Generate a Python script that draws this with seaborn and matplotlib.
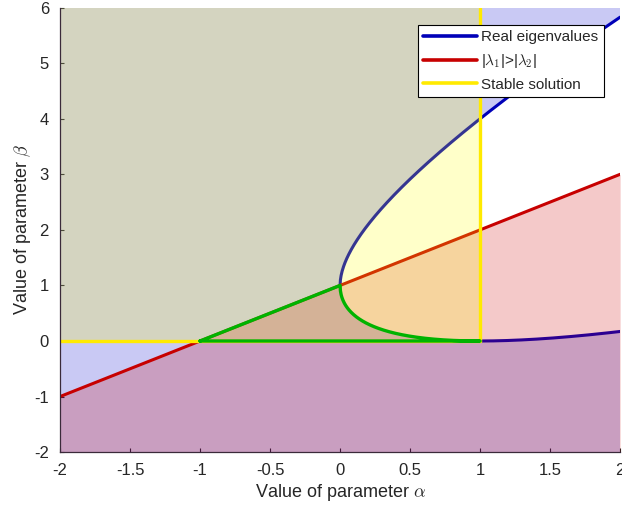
import numpy as np
import pandas as pd
import matplotlib
matplotlib.use("Agg")
import matplotlib.pyplot as plt
import seaborn as sns

sns.set_style("white")
plt.rcParams["font.family"] = ["Liberation Sans", "DejaVu Sans"]
plt.rcParams["mathtext.fontset"] = "cm"

# axis ranges and ticks
alpha_lim = [-2, 2]
beta_lim = [-2, 6]
x_ticks = [-2, -1.5, -1, -0.5, 0, 0.5, 1, 1.5, 2]
y_ticks = [-2, -1, 0, 1, 2, 3, 4, 5, 6]
x_tick_labels = ["-2", "-1.5", "-1", "-0.5", "0", "0.5", "1", "1.5", "2"]
y_tick_labels = ["-2", "-1", "0", "1", "2", "3", "4", "5", "6"]

# stability limit in alpha and the legend labels
alpha_stable_max = 1.0
legend_labels = ["Real eigenvalues",
                 r"|$\lambda_{\mathsf{1}}$|>|$\lambda_{\mathsf{2}}$|",
                 "Stable solution"]

# colours
c_blue_line = (0.0, 0.0, 0.72)
c_red_line = (0.78, 0.0, 0.0)
c_yellow_line = "#ffea00"
c_green_line = (0.0, 0.70, 0.0)
c_blue_fill = (0.0, 0.0, 0.8)
c_red_fill = (0.8, 0.0, 0.0)
c_yellow_fill = (1.0, 1.0, 0.0)
fill_alpha = 0.21

# characteristic polynomial  l^2 - (1 + beta - alpha) l + beta = 0
# discriminant zero:  beta = (1 +/- sqrt(alpha))^2
a_pos = np.linspace(0, alpha_lim[1], 801)
beta_upper = (1 + np.sqrt(a_pos)) ** 2
beta_lower = (1 - np.sqrt(a_pos)) ** 2
# equal-modulus line |l1| = |l2| on the real branch: beta = 1 + alpha
a_all = np.linspace(alpha_lim[0], alpha_lim[1], 401)
beta_mod = 1 + a_all

fig = plt.figure(figsize=(6.22, 5.08), dpi=100)
ax = fig.add_axes([0.0965, 0.110, 0.9005, 0.875])

line_kw = dict(sort=False, estimator=None, ax=ax)

# real eigenvalues: the whole plane except the inside of the parabola
blue_x = np.concatenate([[alpha_lim[0], alpha_lim[1]], a_pos[::-1], a_pos,
                         [alpha_lim[1], alpha_lim[0]]])
blue_y = np.concatenate([[beta_lim[0], beta_lim[0]], beta_lower[::-1], beta_upper,
                         [beta_lim[1], beta_lim[1]]])
ax.fill(blue_x, blue_y, color=c_blue_fill, alpha=fill_alpha, lw=0, zorder=1)

# real-eigenvalue boundary (upper branch and lower branch beyond alpha=1)
upper_df = pd.DataFrame({"alpha": a_pos, "beta": beta_upper})
sns.lineplot(data=upper_df, x="alpha", y="beta", color=c_blue_line, lw=2.2,
             zorder=2, label=legend_labels[0], **line_kw)
mask_hi = a_pos >= alpha_stable_max
lower_hi = pd.DataFrame({"alpha": a_pos[mask_hi], "beta": beta_lower[mask_hi]})
sns.lineplot(data=lower_hi, x="alpha", y="beta", color=c_blue_line, lw=2.2,
             zorder=2, **line_kw)

# below the equal-modulus line
ax.fill_between(a_all, beta_lim[0], beta_mod, color=c_red_fill,
                alpha=fill_alpha, lw=0, zorder=3)
mod_df = pd.DataFrame({"alpha": a_all, "beta": beta_mod})
sns.lineplot(data=mod_df, x="alpha", y="beta", color=c_red_line, lw=2.2,
             zorder=4, label=legend_labels[1], **line_kw)

# stable region and its limits
ax.fill_between([alpha_lim[0], alpha_stable_max], 0, beta_lim[1], color=c_yellow_fill,
                alpha=fill_alpha, lw=0, zorder=5)
stab_v = pd.DataFrame({"alpha": [alpha_stable_max, alpha_stable_max], "beta": [0, beta_lim[1]]})
sns.lineplot(data=stab_v, x="alpha", y="beta", color=c_yellow_line, lw=2.4,
             zorder=6, label=legend_labels[2], **line_kw)
stab_h = pd.DataFrame({"alpha": [alpha_lim[0], alpha_stable_max], "beta": [0, 0]})
sns.lineplot(data=stab_h, x="alpha", y="beta", color=c_yellow_line, lw=2.4,
             zorder=6, **line_kw)

# stable region with real eigenvalues of different modulus
mask_lo = a_pos <= alpha_stable_max
g_alpha = np.concatenate([[-1.0], [0.0], a_pos[mask_lo], [-1.0]])
g_beta = np.concatenate([[0.0], [1.0], beta_lower[mask_lo], [0.0]])
green_df = pd.DataFrame({"alpha": g_alpha, "beta": g_beta})
sns.lineplot(data=green_df, x="alpha", y="beta", color=c_green_line, lw=2.4,
             zorder=7, **line_kw)

ax.set_xlim(alpha_lim)
ax.set_ylim(beta_lim)
ax.set_xticks(x_ticks)
ax.set_xticklabels(x_tick_labels)
ax.set_yticks(y_ticks)
ax.set_yticklabels(y_tick_labels)
ax.tick_params(direction="in", length=3, width=0.8, colors="#262626",
               labelsize=12, bottom=True, left=True, pad=8)
ax.set_xlabel(r"Value of parameter $\alpha$", fontsize=13, color="#262626", labelpad=3)
ax.set_ylabel(r"Value of parameter $\beta$", fontsize=13, color="#262626", labelpad=1)
for side in ["top", "right"]:
    ax.spines[side].set_visible(False)
for side in ["left", "bottom"]:
    ax.spines[side].set_color("#3a2a3a")
    ax.spines[side].set_linewidth(0.9)
    ax.spines[side].set_zorder(8)

leg = ax.legend(loc="upper right", bbox_to_anchor=(0.971, 0.961), borderaxespad=0,
                fontsize=11, handlelength=3.5, labelspacing=0.5, handletextpad=0.3,
                fancybox=False, framealpha=1, edgecolor="black", borderpad=0.35)
leg.get_frame().set_linewidth(0.8)
for line in leg.get_lines():
    line.set_linewidth(2.6)
leg.set_zorder(10)

fig.savefig("out.png", dpi=100)
